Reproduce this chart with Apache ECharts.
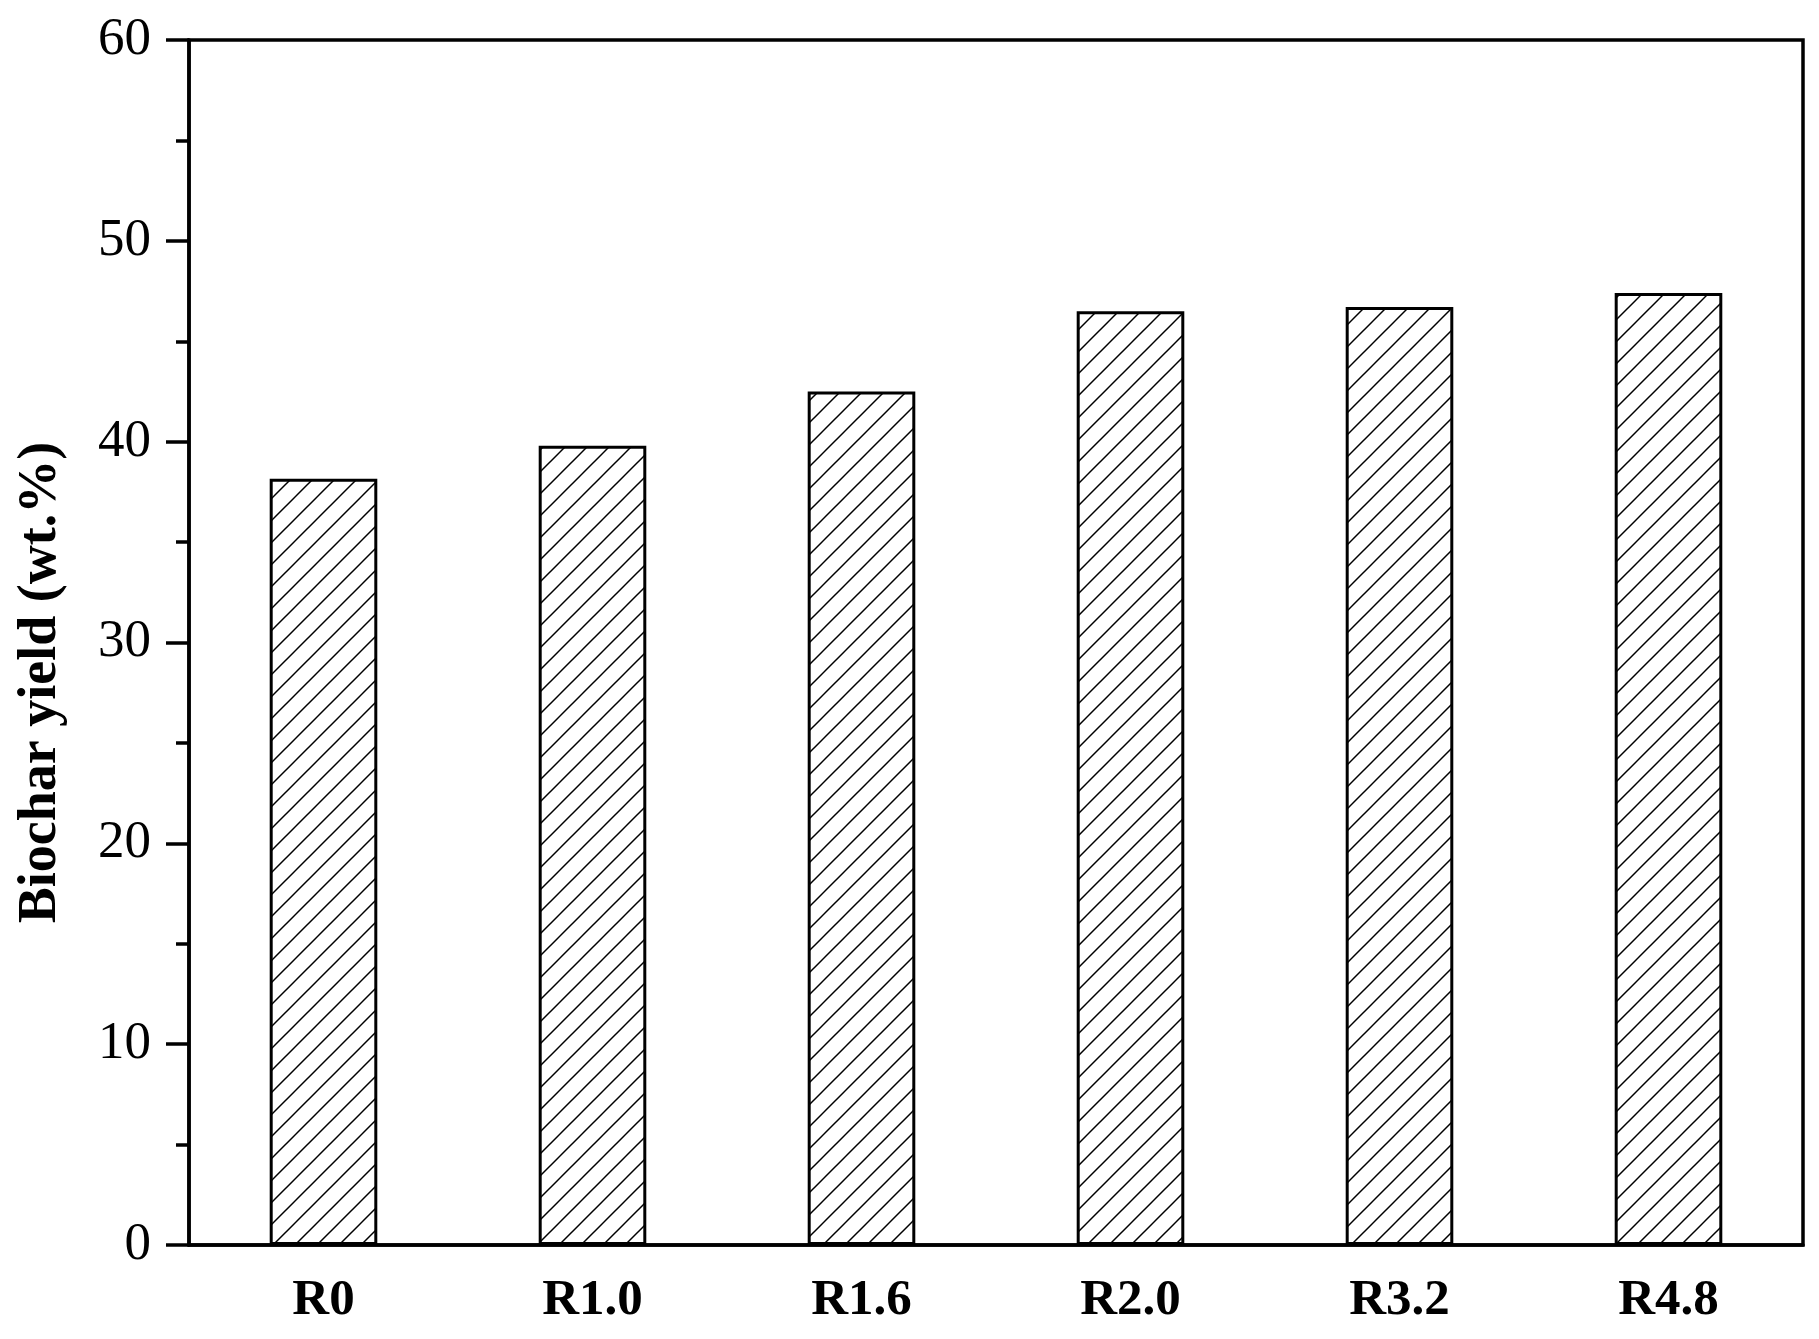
<!DOCTYPE html>
<html>
<head>
<meta charset="utf-8">
<script src="https://cdn.jsdelivr.net/npm/echarts@6/dist/echarts.min.js"></script>
<style>
  html, body { margin: 0; padding: 0; background: #fff; }
  #chart { width: 1819px; height: 1339px; }
</style>
</head>
<body>
<div id="chart"></div>
<script>
  // data
  var categories = ['R0', 'R1.0', 'R1.6', 'R2.0', 'R3.2', 'R4.8'];
  var yieldValues = [38.15, 39.8, 42.5, 46.5, 46.7, 47.4];
  var yTicks = [0, 10, 20, 30, 40, 50, 60];

  // hatch pattern for the bars ("/" lines)
  function hatch() {
    var s = 22;
    var c = document.createElement('canvas');
    c.width = s; c.height = s;
    var ctx = c.getContext('2d');
    ctx.fillStyle = '#fff';
    ctx.fillRect(0, 0, s, s);
    ctx.strokeStyle = '#000';
    ctx.lineWidth = 1.5;
    [0, s, 2 * s].forEach(function (k) {
      ctx.beginPath();
      ctx.moveTo(k - s - 2, s + 2);
      ctx.lineTo(k + 2, -2);
      ctx.stroke();
    });
    return c;
  }

  var chart = echarts.init(document.getElementById('chart'));
  var fontFam = '"Liberation Serif", "DejaVu Serif", serif';

  chart.setOption({
    animation: false,
    backgroundColor: '#fff',
    grid: {
      left: 189, right: 16, top: 40, bottom: 94,
      outerBoundsMode: 'none',
      containLabel: false,
      show: true, borderColor: '#000', borderWidth: 3.5
    },
    xAxis: {
      type: 'category',
      data: categories,
      axisLine: { lineStyle: { color: '#000', width: 3.5 } },
      axisTick: { show: false },
      axisLabel: {
        color: '#000', fontFamily: fontFam, fontWeight: 'bold',
        fontSize: 51, margin: 30
      }
    },
    yAxis: {
      type: 'value',
      min: yTicks[0],
      max: yTicks[yTicks.length - 1],
      interval: 10,
      name: 'Biochar yield (wt.%)',
      nameLocation: 'middle',
      nameGap: 121,
      nameTextStyle: {
        color: '#000', fontFamily: fontFam, fontWeight: 'bold', fontSize: 54,
        padding: [0, 80, 0, 0]
      },
      axisLine: { show: true, lineStyle: { color: '#000', width: 3.5 } },
      axisTick: { show: true, length: 23, lineStyle: { color: '#000', width: 3.5 } },
      minorTick: { show: true, splitNumber: 2, length: 13, lineStyle: { color: '#000', width: 3.5 } },
      splitLine: { show: false },
      axisLabel: {
        color: '#000', fontFamily: fontFam, fontSize: 53, margin: 38
      }
    },
    series: [{
      type: 'bar',
      data: yieldValues,
      barWidth: '40%',
      itemStyle: {
        color: { image: hatch(), repeat: 'repeat' },
        borderColor: '#000',
        borderWidth: 3
      }
    }]
  });
</script>
</body>
</html>
